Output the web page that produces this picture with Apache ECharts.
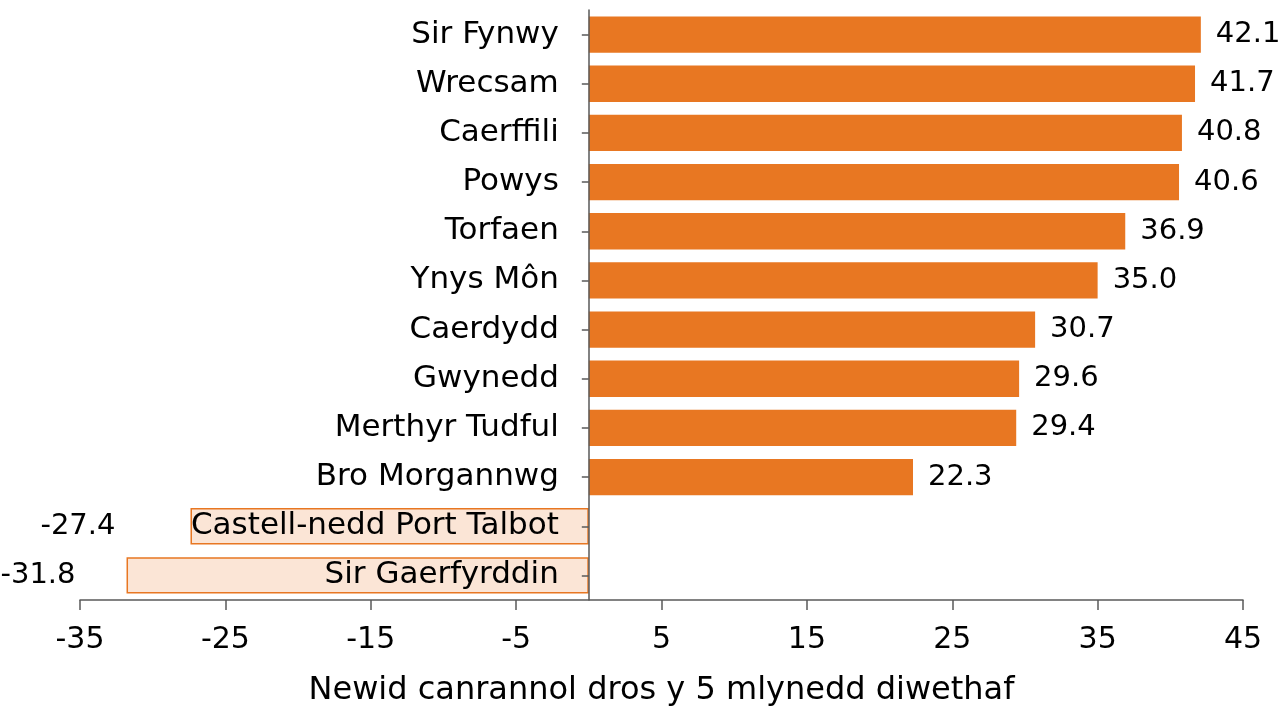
<!DOCTYPE html>
<html>
<head>
<meta charset="utf-8">
<script src="https://cdn.jsdelivr.net/npm/echarts@6/dist/echarts.min.js"></script>
<style>
html,body{margin:0;padding:0;background:#fff;}
#chart{width:1280px;height:706px;}
</style>
</head>
<body>
<div id="chart"></div>
<script>
const categories = ["Sir Fynwy","Wrecsam","Caerffili","Powys","Torfaen","Ynys Môn","Caerdydd","Gwynedd","Merthyr Tudful","Bro Morgannwg","Castell-nedd Port Talbot","Sir Gaerfyrddin"];
const values = [42.1, 41.7, 40.8, 40.6, 36.9, 35.0, 30.7, 29.6, 29.4, 22.3, -27.4, -31.8];
const axisTitle = "Newid canrannol dros y 5 mlynedd diwethaf";
const xMin = -35, xMax = 45, xStep = 10;

const FONT = "DejaVu Sans";
const ORANGE = "#E87722";
const PEACH = "#FBE5D6";
const AXIS = "#595959";
const negLabelDistances = [75, 51];

let negIdx = 0;
const seriesData = values.map(v => {
  if (v < 0) {
    const d = negLabelDistances[negIdx++] || 10;
    return {
      value: v,
      itemStyle: {color: PEACH, borderColor: ORANGE, borderWidth: 1.5},
      label: {position: 'left', distance: d}
    };
  }
  return {value: v};
});

const chart = echarts.init(document.getElementById('chart'));
chart.setOption({
  animation: false,
  grid: {left: 80, right: 37, top: 10, bottom: 106, containLabel: false, outerBoundsMode: 'none'},
  xAxis: {
    type: 'value', min: xMin, max: xMax, interval: xStep,
    splitLine: {show: false},
    axisLine: {show: true, onZero: false, lineStyle: {color: AXIS, width: 1.5}},
    axisTick: {show: true, length: 10, lineStyle: {color: AXIS, width: 1.5}},
    axisLabel: {fontFamily: FONT, fontSize: 30, color: '#000', margin: 25},
    name: axisTitle, nameLocation: 'middle', nameGap: 75,
    nameTextStyle: {fontFamily: FONT, fontSize: 32, color: '#000'}
  },
  yAxis: {
    type: 'category', data: categories, inverse: true, z: 10,
    axisLine: {show: true, onZero: false, lineStyle: {color: AXIS, width: 1.5}},
    axisTick: {show: true, alignWithLabel: true, length: 7, lineStyle: {color: AXIS, width: 1.5}},
    axisLabel: {fontFamily: FONT, fontSize: 31, color: '#000', margin: 30}
  },
  series: [{
    type: 'bar',
    data: seriesData,
    barCategoryGap: '26%',
    itemStyle: {color: ORANGE},
    label: {
      show: true, position: 'right', distance: 15,
      fontFamily: FONT, fontSize: 29, color: '#000',
      formatter: p => p.value.toFixed(1)
    }
  }]
});
const x0 = chart.convertToPixel({xAxisIndex: 0}, 0);
const xLeft = chart.convertToPixel({xAxisIndex: 0}, xMin);
chart.setOption({yAxis: {offset: -(x0 - xLeft)}});
</script>
</body>
</html>
